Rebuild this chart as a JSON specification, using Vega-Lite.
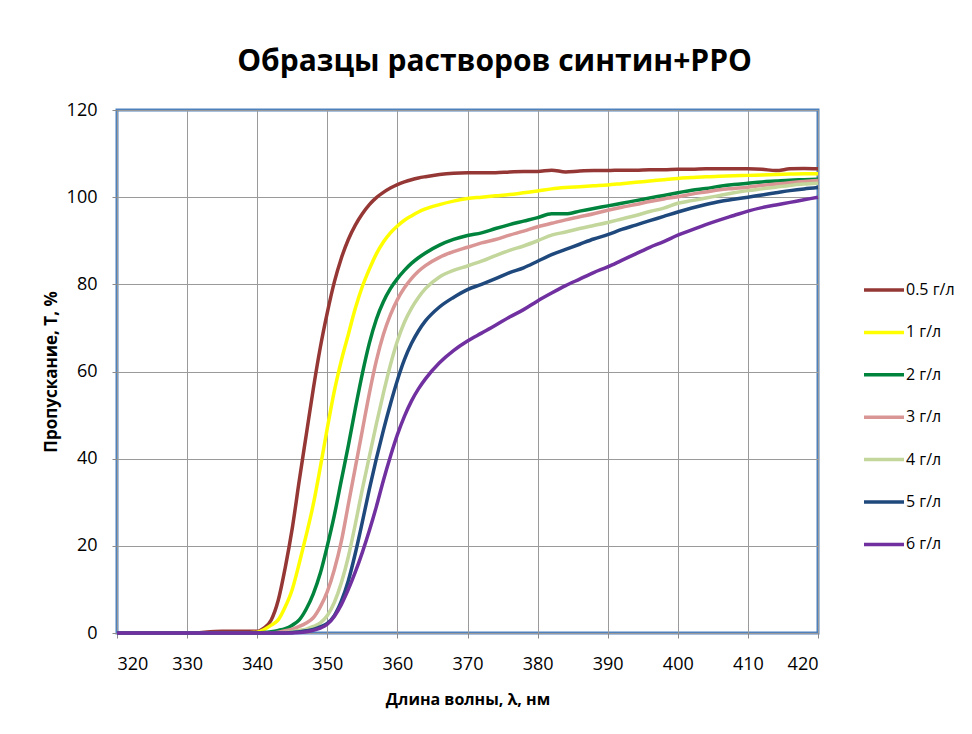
{
"$schema": "https://vega.github.io/schema/vega-lite/v6.json",
"width": 701, "height": 523,
"autosize": {"type": "none"},
"padding": {"left": 117, "top": 110, "right": 154, "bottom": 101},
"background": "white",
"title": {"text": "Образцы растворов синтин+PPO", "font": "Open Sans", "fontSize": 30, "fontWeight": "bold", "color": "#000000", "anchor": "middle", "offset": 24, "dx": 27},
"data": {"values": [
{"s":"0.5 г/л","x":320,"t":0},{"s":"0.5 г/л","x":325,"t":0},{"s":"0.5 г/л","x":330,"t":0},{"s":"0.5 г/л","x":335,"t":0.4},{"s":"0.5 г/л","x":338,"t":0.4},{"s":"0.5 г/л","x":340,"t":0.4},{"s":"0.5 г/л","x":341,"t":1.2},{"s":"0.5 г/л","x":342,"t":3},{"s":"0.5 г/л","x":343,"t":7.5},{"s":"0.5 г/л","x":344,"t":15},{"s":"0.5 г/л","x":345,"t":24},{"s":"0.5 г/л","x":346,"t":35},{"s":"0.5 г/л","x":347,"t":45.5},{"s":"0.5 г/л","x":348,"t":56},{"s":"0.5 г/л","x":349,"t":65.5},{"s":"0.5 г/л","x":350,"t":73.5},{"s":"0.5 г/л","x":351,"t":80.5},{"s":"0.5 г/л","x":352,"t":86},{"s":"0.5 г/л","x":353,"t":90.3},{"s":"0.5 г/л","x":354,"t":93.6},{"s":"0.5 г/л","x":355,"t":96.2},{"s":"0.5 г/л","x":356,"t":98.3},{"s":"0.5 г/л","x":357,"t":99.9},{"s":"0.5 г/л","x":358,"t":101.1},{"s":"0.5 г/л","x":359,"t":102.1},{"s":"0.5 г/л","x":360,"t":102.9},{"s":"0.5 г/л","x":361,"t":103.5},{"s":"0.5 г/л","x":362,"t":104},{"s":"0.5 г/л","x":363,"t":104.4},{"s":"0.5 г/л","x":364,"t":104.7},{"s":"0.5 г/л","x":366,"t":105.2},{"s":"0.5 г/л","x":368,"t":105.5},{"s":"0.5 г/л","x":370,"t":105.6},{"s":"0.5 г/л","x":372,"t":105.6},{"s":"0.5 г/л","x":374,"t":105.6},{"s":"0.5 г/л","x":376,"t":105.8},{"s":"0.5 г/л","x":378,"t":105.9},{"s":"0.5 г/л","x":380,"t":105.9},{"s":"0.5 г/л","x":382,"t":106.2},{"s":"0.5 г/л","x":384,"t":105.8},{"s":"0.5 г/л","x":386,"t":106},{"s":"0.5 г/л","x":388,"t":106.1},{"s":"0.5 г/л","x":390,"t":106.1},{"s":"0.5 г/л","x":392,"t":106.2},{"s":"0.5 г/л","x":394,"t":106.2},{"s":"0.5 г/л","x":396,"t":106.3},{"s":"0.5 г/л","x":398,"t":106.3},{"s":"0.5 г/л","x":400,"t":106.4},{"s":"0.5 г/л","x":402,"t":106.4},{"s":"0.5 г/л","x":404,"t":106.5},{"s":"0.5 г/л","x":406,"t":106.5},{"s":"0.5 г/л","x":408,"t":106.5},{"s":"0.5 г/л","x":410,"t":106.5},{"s":"0.5 г/л","x":412,"t":106.4},{"s":"0.5 г/л","x":414,"t":106.1},{"s":"0.5 г/л","x":416,"t":106.5},{"s":"0.5 г/л","x":418,"t":106.6},{"s":"0.5 г/л","x":420,"t":106.5},
{"s":"1 г/л","x":320,"t":0},{"s":"1 г/л","x":325,"t":0},{"s":"1 г/л","x":330,"t":0},{"s":"1 г/л","x":335,"t":0},{"s":"1 г/л","x":338,"t":0},{"s":"1 г/л","x":340,"t":0.2},{"s":"1 г/л","x":341,"t":0.8},{"s":"1 г/л","x":342,"t":1.8},{"s":"1 г/л","x":343,"t":3},{"s":"1 г/л","x":344,"t":6},{"s":"1 г/л","x":345,"t":10},{"s":"1 г/л","x":346,"t":16},{"s":"1 г/л","x":347,"t":22.5},{"s":"1 г/л","x":348,"t":29.5},{"s":"1 г/л","x":349,"t":38},{"s":"1 г/л","x":350,"t":47},{"s":"1 г/л","x":351,"t":55.5},{"s":"1 г/л","x":352,"t":62.5},{"s":"1 г/л","x":353,"t":68.5},{"s":"1 г/л","x":354,"t":74.5},{"s":"1 г/л","x":355,"t":79.5},{"s":"1 г/л","x":356,"t":83.5},{"s":"1 г/л","x":357,"t":87},{"s":"1 г/л","x":358,"t":89.7},{"s":"1 г/л","x":359,"t":91.8},{"s":"1 г/л","x":360,"t":93.4},{"s":"1 г/л","x":361,"t":94.7},{"s":"1 г/л","x":362,"t":95.7},{"s":"1 г/л","x":363,"t":96.6},{"s":"1 г/л","x":364,"t":97.3},{"s":"1 г/л","x":366,"t":98.3},{"s":"1 г/л","x":368,"t":99.1},{"s":"1 г/л","x":370,"t":99.7},{"s":"1 г/л","x":372,"t":100},{"s":"1 г/л","x":374,"t":100.3},{"s":"1 г/л","x":376,"t":100.6},{"s":"1 г/л","x":378,"t":101},{"s":"1 г/л","x":380,"t":101.4},{"s":"1 г/л","x":382,"t":101.9},{"s":"1 г/л","x":384,"t":102.2},{"s":"1 г/л","x":386,"t":102.4},{"s":"1 г/л","x":388,"t":102.6},{"s":"1 г/л","x":390,"t":102.8},{"s":"1 г/л","x":392,"t":103.1},{"s":"1 г/л","x":394,"t":103.4},{"s":"1 г/л","x":396,"t":103.7},{"s":"1 г/л","x":398,"t":104},{"s":"1 г/л","x":400,"t":104.3},{"s":"1 г/л","x":402,"t":104.5},{"s":"1 г/л","x":404,"t":104.7},{"s":"1 г/л","x":406,"t":104.8},{"s":"1 г/л","x":408,"t":104.9},{"s":"1 г/л","x":410,"t":105},{"s":"1 г/л","x":412,"t":105.1},{"s":"1 г/л","x":414,"t":105.2},{"s":"1 г/л","x":416,"t":105.3},{"s":"1 г/л","x":418,"t":105.4},{"s":"1 г/л","x":420,"t":105.4},
{"s":"2 г/л","x":320,"t":0},{"s":"2 г/л","x":325,"t":0},{"s":"2 г/л","x":330,"t":0},{"s":"2 г/л","x":335,"t":0},{"s":"2 г/л","x":338,"t":0},{"s":"2 г/л","x":340,"t":0},{"s":"2 г/л","x":341,"t":0.1},{"s":"2 г/л","x":342,"t":0.3},{"s":"2 г/л","x":343,"t":0.6},{"s":"2 г/л","x":344,"t":1},{"s":"2 г/л","x":345,"t":1.8},{"s":"2 г/л","x":346,"t":3},{"s":"2 г/л","x":347,"t":5.5},{"s":"2 г/л","x":348,"t":9},{"s":"2 г/л","x":349,"t":13.7},{"s":"2 г/л","x":350,"t":20},{"s":"2 г/л","x":351,"t":27},{"s":"2 г/л","x":352,"t":35},{"s":"2 г/л","x":353,"t":43},{"s":"2 г/л","x":354,"t":51.5},{"s":"2 г/л","x":355,"t":59.5},{"s":"2 г/л","x":356,"t":66.5},{"s":"2 г/л","x":357,"t":72},{"s":"2 г/л","x":358,"t":76},{"s":"2 г/л","x":359,"t":79},{"s":"2 г/л","x":360,"t":81.3},{"s":"2 г/л","x":361,"t":83.2},{"s":"2 г/л","x":362,"t":84.8},{"s":"2 г/л","x":363,"t":86.1},{"s":"2 г/л","x":364,"t":87.2},{"s":"2 г/л","x":366,"t":89},{"s":"2 г/л","x":368,"t":90.3},{"s":"2 г/л","x":370,"t":91.2},{"s":"2 г/л","x":372,"t":91.8},{"s":"2 г/л","x":374,"t":92.8},{"s":"2 г/л","x":376,"t":93.7},{"s":"2 г/л","x":378,"t":94.5},{"s":"2 г/л","x":380,"t":95.3},{"s":"2 г/л","x":382,"t":96.2},{"s":"2 г/л","x":384,"t":96.2},{"s":"2 г/л","x":386,"t":96.8},{"s":"2 г/л","x":388,"t":97.4},{"s":"2 г/л","x":390,"t":98},{"s":"2 г/л","x":392,"t":98.6},{"s":"2 г/л","x":394,"t":99.2},{"s":"2 г/л","x":396,"t":99.8},{"s":"2 г/л","x":398,"t":100.4},{"s":"2 г/л","x":400,"t":101},{"s":"2 г/л","x":402,"t":101.6},{"s":"2 г/л","x":404,"t":102},{"s":"2 г/л","x":406,"t":102.5},{"s":"2 г/л","x":408,"t":102.9},{"s":"2 г/л","x":410,"t":103.2},{"s":"2 г/л","x":412,"t":103.5},{"s":"2 г/л","x":414,"t":103.7},{"s":"2 г/л","x":416,"t":103.9},{"s":"2 г/л","x":418,"t":104},{"s":"2 г/л","x":420,"t":104.1},
{"s":"3 г/л","x":320,"t":0},{"s":"3 г/л","x":325,"t":0},{"s":"3 г/л","x":330,"t":0},{"s":"3 г/л","x":335,"t":0},{"s":"3 г/л","x":338,"t":0},{"s":"3 г/л","x":340,"t":0},{"s":"3 г/л","x":341,"t":0},{"s":"3 г/л","x":342,"t":0},{"s":"3 г/л","x":343,"t":0.2},{"s":"3 г/л","x":344,"t":0.5},{"s":"3 г/л","x":345,"t":0.9},{"s":"3 г/л","x":346,"t":1.5},{"s":"3 г/л","x":347,"t":2.3},{"s":"3 г/л","x":348,"t":3.5},{"s":"3 г/л","x":349,"t":6},{"s":"3 г/л","x":350,"t":9.5},{"s":"3 г/л","x":351,"t":14.5},{"s":"3 г/л","x":352,"t":21},{"s":"3 г/л","x":353,"t":29.5},{"s":"3 г/л","x":354,"t":38},{"s":"3 г/л","x":355,"t":46.5},{"s":"3 г/л","x":356,"t":55},{"s":"3 г/л","x":357,"t":62.5},{"s":"3 г/л","x":358,"t":68.5},{"s":"3 г/л","x":359,"t":73},{"s":"3 г/л","x":360,"t":76.5},{"s":"3 г/л","x":361,"t":79.2},{"s":"3 г/л","x":362,"t":81.3},{"s":"3 г/л","x":363,"t":83},{"s":"3 г/л","x":364,"t":84.3},{"s":"3 г/л","x":366,"t":86.2},{"s":"3 г/л","x":368,"t":87.5},{"s":"3 г/л","x":370,"t":88.5},{"s":"3 г/л","x":372,"t":89.5},{"s":"3 г/л","x":374,"t":90.3},{"s":"3 г/л","x":376,"t":91.3},{"s":"3 г/л","x":378,"t":92.2},{"s":"3 г/л","x":380,"t":93.2},{"s":"3 г/л","x":382,"t":94},{"s":"3 г/л","x":384,"t":94.8},{"s":"3 г/л","x":386,"t":95.5},{"s":"3 г/л","x":388,"t":96.2},{"s":"3 г/л","x":390,"t":97},{"s":"3 г/л","x":392,"t":97.7},{"s":"3 г/л","x":394,"t":98.3},{"s":"3 г/л","x":396,"t":99},{"s":"3 г/л","x":398,"t":99.6},{"s":"3 г/л","x":400,"t":100.1},{"s":"3 г/л","x":402,"t":100.7},{"s":"3 г/л","x":404,"t":101.2},{"s":"3 г/л","x":406,"t":101.7},{"s":"3 г/л","x":408,"t":102},{"s":"3 г/л","x":410,"t":102.3},{"s":"3 г/л","x":412,"t":102.7},{"s":"3 г/л","x":414,"t":103},{"s":"3 г/л","x":416,"t":103.3},{"s":"3 г/л","x":418,"t":103.6},{"s":"3 г/л","x":420,"t":103.8},
{"s":"4 г/л","x":320,"t":0},{"s":"4 г/л","x":325,"t":0},{"s":"4 г/л","x":330,"t":0},{"s":"4 г/л","x":335,"t":0},{"s":"4 г/л","x":338,"t":0},{"s":"4 г/л","x":340,"t":0},{"s":"4 г/л","x":341,"t":0},{"s":"4 г/л","x":342,"t":0},{"s":"4 г/л","x":343,"t":0},{"s":"4 г/л","x":344,"t":0.1},{"s":"4 г/л","x":345,"t":0.3},{"s":"4 г/л","x":346,"t":0.6},{"s":"4 г/л","x":347,"t":0.9},{"s":"4 г/л","x":348,"t":1.5},{"s":"4 г/л","x":349,"t":2.3},{"s":"4 г/л","x":350,"t":4},{"s":"4 г/л","x":351,"t":7},{"s":"4 г/л","x":352,"t":11.5},{"s":"4 г/л","x":353,"t":17.5},{"s":"4 г/л","x":354,"t":25},{"s":"4 г/л","x":355,"t":33},{"s":"4 г/л","x":356,"t":40.5},{"s":"4 г/л","x":357,"t":48},{"s":"4 г/л","x":358,"t":55},{"s":"4 г/л","x":359,"t":61.5},{"s":"4 г/л","x":360,"t":67},{"s":"4 г/л","x":361,"t":71.3},{"s":"4 г/л","x":362,"t":74.5},{"s":"4 г/л","x":363,"t":77},{"s":"4 г/л","x":364,"t":79},{"s":"4 г/л","x":366,"t":81.7},{"s":"4 г/л","x":368,"t":83.2},{"s":"4 г/л","x":370,"t":84.2},{"s":"4 г/л","x":372,"t":85.3},{"s":"4 г/л","x":374,"t":86.6},{"s":"4 г/л","x":376,"t":87.8},{"s":"4 г/л","x":378,"t":88.8},{"s":"4 г/л","x":380,"t":90},{"s":"4 г/л","x":382,"t":91.3},{"s":"4 г/л","x":384,"t":92},{"s":"4 г/л","x":386,"t":92.8},{"s":"4 г/л","x":388,"t":93.5},{"s":"4 г/л","x":390,"t":94.2},{"s":"4 г/л","x":392,"t":95},{"s":"4 г/л","x":394,"t":95.8},{"s":"4 г/л","x":396,"t":96.7},{"s":"4 г/л","x":398,"t":97.5},{"s":"4 г/л","x":400,"t":98.6},{"s":"4 г/л","x":402,"t":99.2},{"s":"4 г/л","x":404,"t":99.8},{"s":"4 г/л","x":406,"t":100.4},{"s":"4 г/л","x":408,"t":101},{"s":"4 г/л","x":410,"t":101.5},{"s":"4 г/л","x":412,"t":101.9},{"s":"4 г/л","x":414,"t":102.3},{"s":"4 г/л","x":416,"t":102.7},{"s":"4 г/л","x":418,"t":103},{"s":"4 г/л","x":420,"t":103.2},
{"s":"5 г/л","x":320,"t":0},{"s":"5 г/л","x":325,"t":0},{"s":"5 г/л","x":330,"t":0},{"s":"5 г/л","x":335,"t":0},{"s":"5 г/л","x":338,"t":0},{"s":"5 г/л","x":340,"t":0},{"s":"5 г/л","x":341,"t":0},{"s":"5 г/л","x":342,"t":0},{"s":"5 г/л","x":343,"t":0},{"s":"5 г/л","x":344,"t":0},{"s":"5 г/л","x":345,"t":0.1},{"s":"5 г/л","x":346,"t":0.3},{"s":"5 г/л","x":347,"t":0.5},{"s":"5 г/л","x":348,"t":0.8},{"s":"5 г/л","x":349,"t":1.4},{"s":"5 г/л","x":350,"t":2.2},{"s":"5 г/л","x":351,"t":4},{"s":"5 г/л","x":352,"t":7.3},{"s":"5 г/л","x":353,"t":12},{"s":"5 г/л","x":354,"t":18.3},{"s":"5 г/л","x":355,"t":25.5},{"s":"5 г/л","x":356,"t":33},{"s":"5 г/л","x":357,"t":40},{"s":"5 г/л","x":358,"t":46.5},{"s":"5 г/л","x":359,"t":52.5},{"s":"5 г/л","x":360,"t":58},{"s":"5 г/л","x":361,"t":62.7},{"s":"5 г/л","x":362,"t":66.4},{"s":"5 г/л","x":363,"t":69.3},{"s":"5 г/л","x":364,"t":71.6},{"s":"5 г/л","x":366,"t":74.8},{"s":"5 г/л","x":368,"t":77},{"s":"5 г/л","x":370,"t":78.8},{"s":"5 г/л","x":372,"t":80},{"s":"5 г/л","x":374,"t":81.3},{"s":"5 г/л","x":376,"t":82.7},{"s":"5 г/л","x":378,"t":83.8},{"s":"5 г/л","x":380,"t":85.3},{"s":"5 г/л","x":382,"t":86.8},{"s":"5 г/л","x":384,"t":88},{"s":"5 г/л","x":386,"t":89.2},{"s":"5 г/л","x":388,"t":90.4},{"s":"5 г/л","x":390,"t":91.4},{"s":"5 г/л","x":392,"t":92.6},{"s":"5 г/л","x":394,"t":93.6},{"s":"5 г/л","x":396,"t":94.6},{"s":"5 г/л","x":398,"t":95.6},{"s":"5 г/л","x":400,"t":96.6},{"s":"5 г/л","x":402,"t":97.5},{"s":"5 г/л","x":404,"t":98.3},{"s":"5 г/л","x":406,"t":99},{"s":"5 г/л","x":408,"t":99.5},{"s":"5 г/л","x":410,"t":100},{"s":"5 г/л","x":412,"t":100.5},{"s":"5 г/л","x":414,"t":101},{"s":"5 г/л","x":416,"t":101.5},{"s":"5 г/л","x":418,"t":101.9},{"s":"5 г/л","x":420,"t":102.2},
{"s":"6 г/л","x":320,"t":0},{"s":"6 г/л","x":325,"t":0},{"s":"6 г/л","x":330,"t":0},{"s":"6 г/л","x":335,"t":0},{"s":"6 г/л","x":338,"t":0},{"s":"6 г/л","x":340,"t":0},{"s":"6 г/л","x":341,"t":0},{"s":"6 г/л","x":342,"t":0},{"s":"6 г/л","x":343,"t":0},{"s":"6 г/л","x":344,"t":0},{"s":"6 г/л","x":345,"t":0},{"s":"6 г/л","x":346,"t":0.1},{"s":"6 г/л","x":347,"t":0.3},{"s":"6 г/л","x":348,"t":0.6},{"s":"6 г/л","x":349,"t":1.1},{"s":"6 г/л","x":350,"t":2},{"s":"6 г/л","x":351,"t":3.8},{"s":"6 г/л","x":352,"t":6.5},{"s":"6 г/л","x":353,"t":10},{"s":"6 г/л","x":354,"t":14},{"s":"6 г/л","x":355,"t":18.5},{"s":"6 г/л","x":356,"t":23.5},{"s":"6 г/л","x":357,"t":29},{"s":"6 г/л","x":358,"t":35},{"s":"6 г/л","x":359,"t":40.5},{"s":"6 г/л","x":360,"t":45.5},{"s":"6 г/л","x":361,"t":49.7},{"s":"6 г/л","x":362,"t":53.2},{"s":"6 г/л","x":363,"t":56},{"s":"6 г/л","x":364,"t":58.3},{"s":"6 г/л","x":366,"t":62},{"s":"6 г/л","x":368,"t":64.8},{"s":"6 г/л","x":370,"t":67},{"s":"6 г/л","x":372,"t":68.8},{"s":"6 г/л","x":374,"t":70.6},{"s":"6 г/л","x":376,"t":72.5},{"s":"6 г/л","x":378,"t":74.2},{"s":"6 г/л","x":380,"t":76.2},{"s":"6 г/л","x":382,"t":78},{"s":"6 г/л","x":384,"t":79.7},{"s":"6 г/л","x":386,"t":81.2},{"s":"6 г/л","x":388,"t":82.7},{"s":"6 г/л","x":390,"t":84},{"s":"6 г/л","x":392,"t":85.5},{"s":"6 г/л","x":394,"t":87},{"s":"6 г/л","x":396,"t":88.5},{"s":"6 г/л","x":398,"t":89.8},{"s":"6 г/л","x":400,"t":91.3},{"s":"6 г/л","x":402,"t":92.5},{"s":"6 г/л","x":404,"t":93.7},{"s":"6 г/л","x":406,"t":94.8},{"s":"6 г/л","x":408,"t":95.8},{"s":"6 г/л","x":410,"t":96.8},{"s":"6 г/л","x":412,"t":97.6},{"s":"6 г/л","x":414,"t":98.2},{"s":"6 г/л","x":416,"t":98.8},{"s":"6 г/л","x":418,"t":99.4},{"s":"6 г/л","x":420,"t":100}
]},
"mark": {"type": "line", "strokeWidth": 3.5, "interpolate": "monotone"},
"encoding": {
"x": {"field": "x", "type": "quantitative", "scale": {"domain": [320, 420], "nice": false, "zero": false},
"axis": {"values": [320,330,340,350,360,370,380,390,400,410,420], "title": "Длина волны, λ, нм", "labelPadding": 17, "titlePadding": 18, "titleFontSize": 16}},
"y": {"field": "t", "type": "quantitative", "scale": {"domain": [0, 120], "nice": false},
"axis": {"values": [0,20,40,60,80,100,120], "title": "Пропускание, Т, %", "labelPadding": 15, "titlePadding": 6, "titleFontSize": 17}},
"color": {"field": "s", "type": "nominal",
"scale": {"domain": ["0.5 г/л","1 г/л","2 г/л","3 г/л","4 г/л","5 г/л","6 г/л"], "range": ["#953735","#ffff00","#00843d","#d99694","#c3d69b","#1f497d","#7030a0"]},
"legend": {"title": null, "orient": "none", "legendX": 745, "legendY": 158, "symbolType": "stroke", "symbolSize": 1600, "symbolStrokeWidth": 3.5, "rowPadding": 12.4, "labelFont": "Open Sans", "labelFontSize": 16, "labelColor": "#000000", "labelOffset": 0, "padding": 0}}
},
"config": {
"view": {"stroke": "#4f81bd", "strokeWidth": 3},
"axis": {"domain": false, "grid": true, "gridColor": "#9a9a9a", "gridWidth": 1, "tickColor": "#8a8a8a", "tickSize": 5, "labelFont": "Open Sans", "labelFontSize": 18, "labelColor": "#000000", "titleFont": "Open Sans", "titleFontWeight": "bold", "titleColor": "#000000"}
}
}
